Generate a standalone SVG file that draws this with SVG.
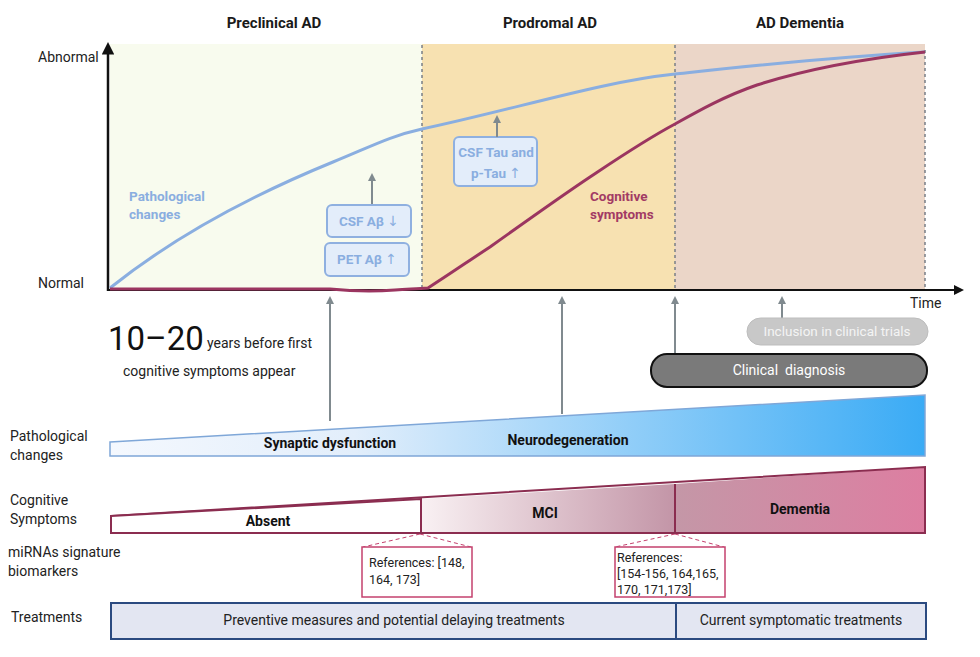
<svg xmlns="http://www.w3.org/2000/svg" width="980" height="657" viewBox="0 0 980 657">
<defs>
<style>
text{font-family:Roboto,"Liberation Sans",sans-serif;}
.hd{font-size:15px;font-weight:bold;fill:#1a1a1a;text-anchor:middle}
.lb{font-size:14px;fill:#222}
.bl{font-size:14px;font-weight:bold;fill:#111;text-anchor:middle}
.bx{fill:#e3edfa;stroke:#8fb0e0;stroke-width:2}
.bxt{font-size:13.5px;font-weight:bold;fill:#8aaee0;text-anchor:middle}
.ar{font-family:"DejaVu Sans",sans-serif;font-weight:normal;font-size:14px}
.dash{stroke:#7a7f86;stroke-width:1.5;stroke-dasharray:3,3;fill:none}
.garr{stroke:#808a8f;stroke-width:2;fill:none;marker-end:url(#ga)}
.ref{fill:#fff;stroke:#c4416e;stroke-width:1.5}
.refd{stroke:#c4416e;stroke-width:1;stroke-dasharray:4,3;fill:none}
.rt{font-size:12.5px;fill:#222}
.tr{fill:#e3e6f2;stroke:#2b4a80;stroke-width:2}
.trt{font-size:14px;fill:#222;text-anchor:middle}
</style>
<marker id="ga" viewBox="0 0 10 10" refX="5" refY="5" markerWidth="4" markerHeight="4" orient="auto"><path d="M0,0 L10,5 L0,10 z" fill="#808a8f"/></marker>
<marker id="ka" viewBox="0 0 10 10" refX="2" refY="5" markerWidth="5" markerHeight="5" orient="auto"><path d="M0,0 L10,5 L0,10 z" fill="#111"/></marker>
<linearGradient id="gp" x1="0" x2="1" y1="0" y2="0"><stop offset="0" stop-color="#f4f8fe"/><stop offset="0.3" stop-color="#e2eefb"/><stop offset="1" stop-color="#3aabf5"/></linearGradient>
<linearGradient id="gm" x1="0" x2="1" y1="0" y2="0"><stop offset="0" stop-color="#f9f1f3"/><stop offset="1" stop-color="#c395a7"/></linearGradient>
<linearGradient id="gd" x1="0" x2="1" y1="0" y2="0"><stop offset="0" stop-color="#c497a7"/><stop offset="1" stop-color="#dd7ea1"/></linearGradient>
</defs>

<g id="stages">
<rect x="110" y="44" width="312" height="246" fill="#f8fbee"/>
<rect x="422" y="44" width="253" height="246" fill="#f7e1b1"/>
<rect x="675" y="44" width="250" height="246" fill="#ebd6c8"/>
<text class="hd" x="274" y="28">Preclinical AD</text>
<text class="hd" x="550" y="28">Prodromal AD</text>
<text class="hd" x="800" y="28">AD Dementia</text>
</g>

<g id="axes">
<line class="dash" x1="422" y1="45" x2="422" y2="289"/>
<line class="dash" x1="675" y1="45" x2="675" y2="289"/>
<line class="dash" x1="925" y1="50" x2="925" y2="289"/>
<line x1="108" y1="291" x2="108" y2="52" stroke="#111" stroke-width="2.5" marker-end="url(#ka)"/>
<line x1="107" y1="290" x2="956" y2="290" stroke="#111" stroke-width="2" marker-end="url(#ka)"/>
<text class="lb" x="38" y="62">Abnormal</text>
<text class="lb" x="38" y="288">Normal</text>
<text class="lb" x="910" y="308">Time</text>
</g>

<g id="curves">
<path d="M110,288 C170,240 240,200 333,162 C370,147 390,136 422,129 C520,108 600,82 675,74 C740,67 820,58 925,52" fill="none" stroke="#8aaee0" stroke-width="3"/>
<path d="M110,289 L330,289 C350,291 370,292 395,290 C410,289 418,289 428,288 C450,274 470,260 490,247 C525,222 560,197 590,177 C620,157 645,140 675,124 C700,110 725,96 757,85 C810,68 870,58 925,52" fill="none" stroke="#9b3560" stroke-width="3"/>
<text x="129" y="201" font-size="13.5px" font-weight="bold" fill="#8aaee0">Pathological</text>
<text x="129" y="219" font-size="13.5px" font-weight="bold" fill="#8aaee0">changes</text>
<text x="590" y="201" font-size="13.5px" font-weight="bold" fill="#a23b64">Cognitive</text>
<text x="590" y="219" font-size="13.5px" font-weight="bold" fill="#a23b64">symptoms</text>
</g>

<g id="biomarkers">
<rect class="bx" x="327" y="205" width="84" height="32" rx="5"/>
<text class="bxt" x="369" y="226">CSF Aβ <tspan class="ar">↓</tspan></text>
<rect class="bx" x="325" y="243" width="84" height="33" rx="5"/>
<text class="bxt" x="367" y="264">PET Aβ <tspan class="ar">↑</tspan></text>
<rect class="bx" x="454" y="137" width="83" height="49" rx="5"/>
<text class="bxt" x="496" y="157">CSF Tau and</text>
<text class="bxt" x="496" y="178">p-Tau <tspan class="ar">↑</tspan></text>
</g>

<g id="connectors">
<line class="garr" x1="372" y1="204" x2="372" y2="177"/>
<line class="garr" x1="497" y1="137" x2="497" y2="119"/>
<line class="garr" x1="330" y1="421" x2="330" y2="300"/>
<line class="garr" x1="562" y1="414" x2="562" y2="300"/>
<line class="garr" x1="675" y1="353" x2="675" y2="300"/>
<line class="garr" x1="782" y1="318" x2="782" y2="300"/>
<line class="refd" x1="420" y1="534" x2="363" y2="547"/>
<line class="refd" x1="420" y1="534" x2="471" y2="547"/>
<line class="refd" x1="675" y1="534" x2="615" y2="547"/>
<line class="refd" x1="675" y1="534" x2="724" y2="547"/>
</g>

<g id="years">
<text x="108" y="350" font-size="33px" fill="#111">10–20</text>
<text x="207" y="348" font-size="14px" fill="#222">years before first</text>
<text x="123" y="376" font-size="14px" fill="#222">cognitive symptoms appear</text>
</g>

<g id="trials">
<rect x="747" y="318" width="181" height="27" rx="13.5" fill="#c8c8c8" stroke="#bdbdbd" stroke-width="1"/>
<text x="837" y="336" font-size="13.5px" fill="#f4f4f4" text-anchor="middle">Inclusion in clinical trials</text>
</g>
<g id="diagnosis">
<rect x="651" y="354" width="276" height="33" rx="16" fill="#7a7a7a" stroke="#111" stroke-width="2"/>
<text x="789" y="375" font-size="14px" fill="#fff" text-anchor="middle">Clinical&#160; diagnosis</text>
</g>

<g id="path-bar">
<text class="lb" x="10" y="441">Pathological</text>
<text class="lb" x="10" y="460">changes</text>
<polygon points="110,442 925,395 925,456 110,456" fill="url(#gp)" stroke="#7fa7d8" stroke-width="1.5"/>
<text class="bl" x="330" y="448">Synaptic dysfunction</text>
<text class="bl" x="568" y="445">Neurodegeneration</text>
</g>

<g id="cog-bar">
<text class="lb" x="10" y="505">Cognitive</text>
<text class="lb" x="10" y="524">Symptoms</text>
<polygon points="421,499 675,484 675,533 421,533" fill="url(#gm)"/>
<polygon points="675,484 925,467 925,533 675,533" fill="url(#gd)"/>
<polygon points="111,516 925,467 925,533 111,533" fill="none" stroke="#8b2d50" stroke-width="2"/>
<polygon points="111,516 421,499 421,533 111,533" fill="#fff" stroke="#8b2d50" stroke-width="2"/>
<line x1="675" y1="484" x2="675" y2="533" stroke="#8b2d50" stroke-width="2"/>
<text class="bl" x="268" y="526">Absent</text>
<text class="bl" x="545" y="518">MCI</text>
<text class="bl" x="800" y="514">Dementia</text>
</g>

<g id="mirna">
<text class="lb" x="8" y="557">miRNAs signature</text>
<text class="lb" x="8" y="576">biomarkers</text>
<rect class="ref" x="362" y="547" width="110" height="50"/>
<text class="rt" x="369" y="567">References: [148,</text>
<text class="rt" x="369" y="584">164, 173]</text>
<rect class="ref" x="615" y="547" width="110" height="50"/>
<text class="rt" x="617" y="562">References:</text>
<text class="rt" x="617" y="578">[154-156, 164,165,</text>
<text class="rt" x="617" y="594">170, 171,173]</text>
</g>

<g id="treatments">
<text class="lb" x="11" y="622">Treatments</text>
<rect class="tr" x="111" y="603" width="565" height="36"/>
<rect class="tr" x="676" y="603" width="250" height="36"/>
<text class="trt" x="394" y="625">Preventive measures and potential delaying treatments</text>
<text class="trt" x="801" y="625">Current symptomatic treatments</text>
</g>
</svg>
